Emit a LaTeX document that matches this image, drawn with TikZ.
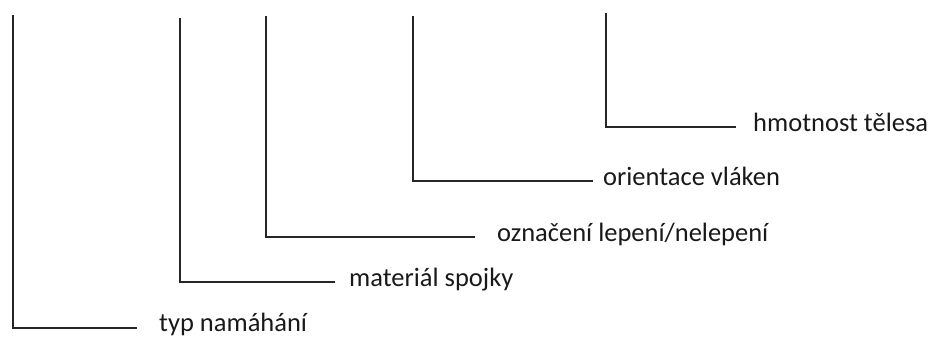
\documentclass[tikz,border=0pt]{standalone}
\usepackage{fontspec}
\setmainfont{Carlito}
\begin{document}
\begin{tikzpicture}[x=1pt,y=1pt,
  conn/.style={line width=1.5pt,draw=black!85},
  lbl/.style={anchor=base west,inner sep=0pt,font=\fontsize{26.5}{30}\selectfont,text=black!90}]
\useasboundingbox (0,0) rectangle (933,338);
% tops
\coordinate (T1) at (13,323);
\coordinate (T2) at (180,320);
\coordinate (T3) at (266,322);
\coordinate (T4) at (413,322);
\coordinate (T5) at (606,325);
% horizontal ends
\coordinate (E1) at (137,10);
\coordinate (E2) at (335,56);
\coordinate (E3) at (475,101);
\coordinate (E4) at (593,157);
\coordinate (E5) at (736,211);
% labels
\node[lbl] (L1) at (159,6.2) {typ namáhání};
\node[lbl] (L2) at (349,51.5) {materiál spojky};
\node[lbl] (L3) at (497,96.5) {označení lepení/nelepení};
\node[lbl] (L4) at (603,152.5) {orientace vláken};
\node[lbl] (L5) at (753,206.5) {hmotnost tělesa};
% connectors
\draw[conn] (T1) |- (E1);
\draw[conn] (T2) |- (E2);
\draw[conn] (T3) |- (E3);
\draw[conn] (T4) |- (E4);
\draw[conn] (T5) |- (E5);
\end{tikzpicture}
\end{document}
